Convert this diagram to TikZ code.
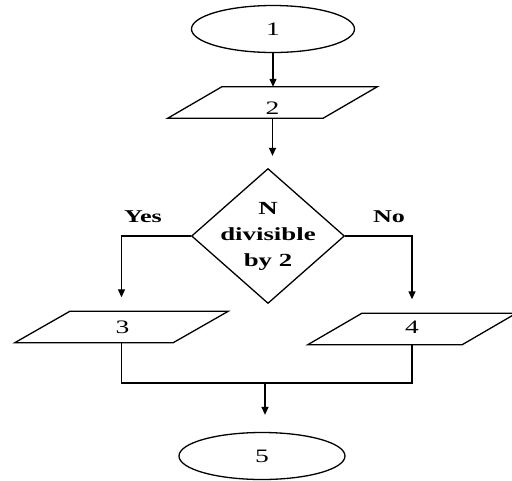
\documentclass[tikz,border=0pt]{standalone}
\usepackage{fontspec}
\setmainfont{Liberation Serif}[FakeStretch=1.45]
\usetikzlibrary{shapes.geometric,arrows.meta}
\begin{document}
\begin{tikzpicture}[x=1pt,y=-1pt,
  line/.style={draw=black,line width=1.3pt},
  arr/.style={line,-{Triangle[length=8pt,width=7pt]}},
  term/.style={ellipse,line,minimum width=163pt,minimum height=47pt,inner sep=0pt,
    font=\fontsize{19}{20}\selectfont},
  iobox/.style={rectangle,draw=none,minimum height=31pt,inner sep=0pt},
  dec/.style={diamond,line,minimum width=153pt,minimum height=135pt,inner sep=-20pt,
    align=center,font=\bfseries\fontsize{18.5}{28}\selectfont},
  txt/.style={inner sep=0pt,font=\fontsize{19}{20}\selectfont},
  lbl/.style={inner sep=0pt,font=\bfseries\fontsize{18}{20}\selectfont}]
\useasboundingbox (0,0) rectangle (512,480);
% nodes
\node[term] (e1) at (273,29) {1};
\node[iobox,minimum width=155pt] (p2) at (272.5,102.5) {};
\node[txt] (t2) at (272.5,108) {2};
\node[dec] (d) at (268,236) {N\\[-2pt]divisible\\[-2pt]by 2};
\node[iobox,minimum width=158pt] (p3) at (121.5,327) {};
\node[txt] (t3) at (122.5,327) {3};
\node[iobox,minimum width=154pt] (p4) at (412,329) {};
\node[txt] (t4) at (412,327) {4};
\node[term,minimum width=166pt] (e5) at (262,456) {5};
\node[lbl] (yes) at (143,217) {Yes};
\node[lbl] (no) at (389,217) {No};
% parallelograms
\foreach \p/\s in {p2/27,p3/27.5,p4/27}{
  \draw[line] ([xshift=-\s pt]\p.south west) -- ([xshift=\s pt]\p.north west)
    -- ([xshift=\s pt]\p.north east) -- ([xshift=-\s pt]\p.south east) -- cycle;
}
% connectors
\coordinate (j) at (265,383);
\draw[arr] (e1.south) -- (e1.south |- p2.north);
\draw[arr,shorten >=12pt] (p2.south) -- (p2.south |- d.north);
\draw[arr,shorten >=14pt] (d.west) -| (p3.north);
\draw[arr,shorten >=14pt] (d.east) -| (p4.north);
\draw[line] (p3.south) |- (j) -| (p4.south);
\draw[arr,shorten >=17pt] (j) -- (j |- e5.north);
\end{tikzpicture}
\end{document}
